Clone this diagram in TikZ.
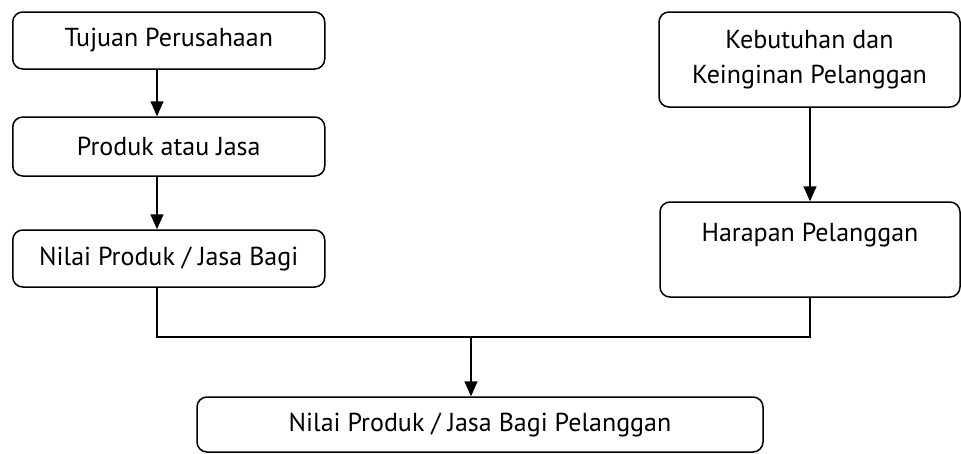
\documentclass[tikz,border=0pt]{standalone}
\usepackage{fontspec}
\setmainfont{PT Sans}
\usetikzlibrary{arrows.meta}
\begin{document}
\begin{tikzpicture}[x=1pt,y=-1pt,
  every node/.style={font=\fontsize{26}{35}\selectfont},
  box/.style={draw, line width=1.5pt, rounded corners=10pt, align=center,
    inner sep=0pt, anchor=center},
  link/.style={line width=1.5pt},
  flow/.style={link, -{Triangle[width=13pt,length=15pt]}}]
\useasboundingbox (0,0) rectangle (961,453);

% left column
\node[box, minimum width=312pt, minimum height=57pt] (tujuan) at (168.75,40.5) {Tujuan Perusahaan};
\node[box, minimum width=312pt, minimum height=59pt] (produk) at (168.75,146.5) {Produk atau Jasa};
\node[box, minimum width=312pt, minimum height=57pt] (nilai) at (168.75,258.5) {Nilai Produk / Jasa Bagi};

% right column
\node[box, minimum width=301pt, minimum height=95pt] (kebutuhan) at (809.5,59.5) {Kebutuhan dan\\Keinginan Pelanggan};
\node[box, minimum width=300pt, minimum height=95pt] (harapan) at (810,249.5) {Harapan Pelanggan\\~};

% result
\node[box, minimum width=566pt, minimum height=55pt] (hasil) at (480,424.5) {Nilai Produk / Jasa Bagi Pelanggan};

% connector guides
\coordinate (lx) at (157,0);
\coordinate (rx) at (810,0);
\coordinate (mx) at (471,0);
\coordinate (join) at (0,337);

\draw[flow] (tujuan.south -| lx) -- (produk.north -| lx);
\draw[flow] (produk.south -| lx) -- (nilai.north -| lx);
\draw[flow] (kebutuhan.south -| rx) -- (harapan.north -| rx);
\draw[link] (nilai.south -| lx) -- (join -| lx) -- (join -| rx) -- (harapan.south -| rx);
\draw[flow] (join -| mx) -- (hasil.north -| mx);
\end{tikzpicture}
\end{document}
